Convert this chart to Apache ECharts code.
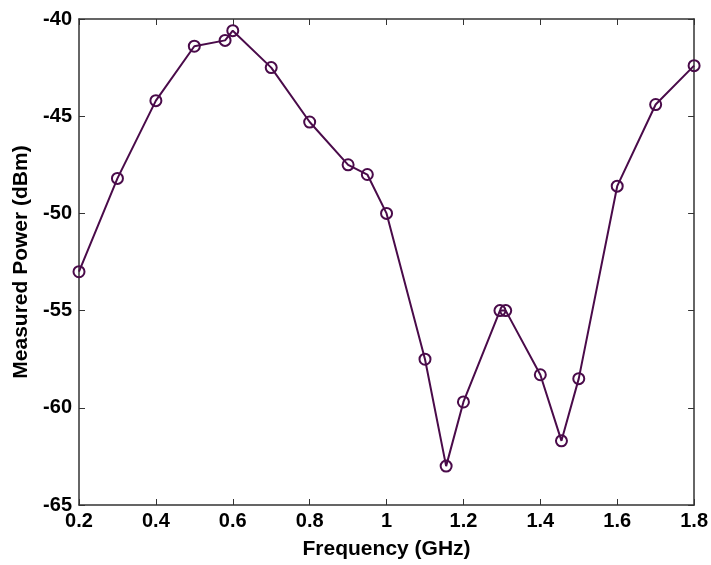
<!DOCTYPE html>
<html>
<head>
<meta charset="utf-8">
<script src="https://cdn.jsdelivr.net/npm/echarts@6/dist/echarts.min.js"></script>
<style>
  html, body { margin: 0; padding: 0; background: #fff; }
  #chart { width: 711px; height: 565px; }
</style>
</head>
<body>
<div id="chart"></div>
<script>
  // measured frequency sweep (GHz) and power (dBm)
  var freq = [0.2, 0.3, 0.4, 0.5, 0.58, 0.6, 0.7, 0.8, 0.9, 0.95, 1.0, 1.1, 1.155,
              1.2, 1.295, 1.31, 1.4, 1.455, 1.5, 1.6, 1.7, 1.8];
  var power = [-53.0, -48.2, -44.2, -41.4, -41.1, -40.6, -42.5, -45.3, -47.5, -48.0, -50.0, -57.5, -63.0,
               -59.7, -55.0, -55.0, -58.3, -61.7, -58.5, -48.6, -44.4, -42.4];
  var xTicks = [0.2, 0.4, 0.6, 0.8, 1, 1.2, 1.4, 1.6, 1.8];
  var yTicks = [-65, -60, -55, -50, -45, -40];

  var lineColor = '#4a0b4a';
  var font = 'Liberation Sans, Arial, sans-serif';

  var pts = freq.map(function (f, i) { return [f, power[i]]; });

  var chart = echarts.init(document.getElementById('chart'));

  var tickStyle = { inside: true, length: 6, lineStyle: { color: '#333', width: 1 } };
  var axisLine = { show: true, lineStyle: { color: '#333', width: 1.5 } };
  var labelStyle = { color: '#000', fontSize: 20, fontWeight: 'bold', fontFamily: font };
  var nameStyle = { color: '#000', fontSize: 21, fontWeight: 'bold', fontFamily: font };

  chart.setOption({
    animation: false,
    backgroundColor: '#fff',
    grid: { left: 79, right: 15, top: 19, bottom: 60, containLabel: false },
    xAxis: [{
      type: 'value',
      min: 0.2, max: 1.8, interval: 0.2,
      position: 'bottom',
      name: 'Frequency (GHz)',
      nameLocation: 'middle',
      nameGap: 34,
      nameTextStyle: nameStyle,
      axisLine: axisLine,
      axisTick: tickStyle,
      axisLabel: Object.assign({ margin: 6, formatter: function (v) {
        var t = Math.round(v * 10) / 10;
        return xTicks.indexOf(t) >= 0 ? String(t) : '';
      } }, labelStyle),
      splitLine: { show: false }
    }, {
      type: 'value',
      min: 0.2, max: 1.8, interval: 0.2,
      position: 'top',
      axisLine: axisLine,
      axisTick: tickStyle,
      axisLabel: { show: false },
      splitLine: { show: false }
    }],
    yAxis: [{
      type: 'value',
      min: -65, max: -40, interval: 5,
      position: 'left',
      name: 'Measured Power (dBm)',
      nameLocation: 'middle',
      nameGap: 47,
      nameTextStyle: nameStyle,
      axisLine: axisLine,
      axisTick: tickStyle,
      axisLabel: Object.assign({ margin: 7, formatter: function (v) {
        return yTicks.indexOf(v) >= 0 ? String(v) : '';
      } }, labelStyle),
      splitLine: { show: false }
    }, {
      type: 'value',
      min: -65, max: -40, interval: 5,
      position: 'right',
      axisLine: axisLine,
      axisTick: tickStyle,
      axisLabel: { show: false },
      splitLine: { show: false }
    }],
    series: [{
      type: 'line',
      data: pts,
      xAxisIndex: 0,
      yAxisIndex: 0,
      symbol: 'circle',
      symbolSize: 11,
      showAllSymbol: true,
      lineStyle: { color: lineColor, width: 2 },
      itemStyle: { color: 'rgba(255,255,255,0)', borderColor: lineColor, borderWidth: 2 }
    }]
  });
</script>
</body>
</html>
